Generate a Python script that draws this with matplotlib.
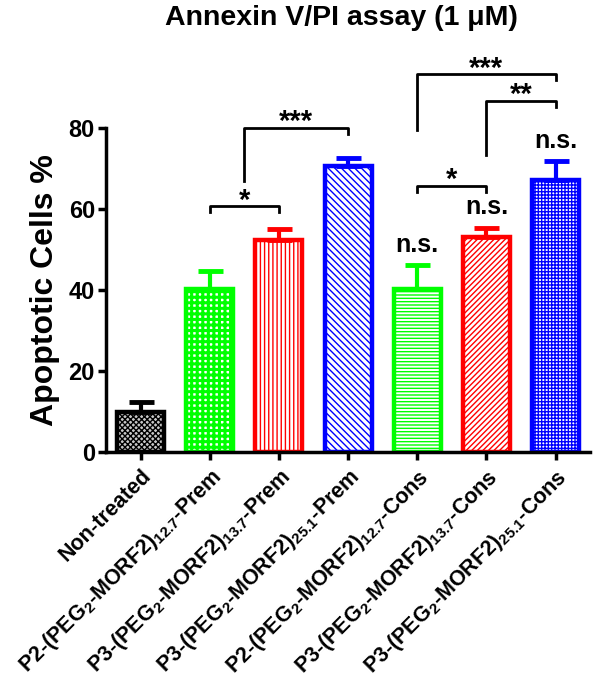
import matplotlib.pyplot as plt
import numpy as np

plt.rcParams['font.family'] = ['Liberation Sans', 'DejaVu Sans']
plt.rcParams['font.weight'] = 'bold'
plt.rcParams['mathtext.fontset'] = 'custom'
plt.rcParams['mathtext.bf'] = 'Liberation Sans:bold'
plt.rcParams['mathtext.rm'] = 'Liberation Sans:bold'
plt.rcParams['mathtext.default'] = 'bf'

# Data
labels = [
    'Non-treated',
    'P2-(PEG$_2$-MORF2)$_{12.7}$-Prem',
    'P3-(PEG$_2$-MORF2)$_{13.7}$-Prem',
    'P3-(PEG$_2$-MORF2)$_{25.1}$-Prem',
    'P2-(PEG$_2$-MORF2)$_{12.7}$-Cons',
    'P3-(PEG$_2$-MORF2)$_{13.7}$-Cons',
    'P3-(PEG$_2$-MORF2)$_{25.1}$-Cons',
]
means = [9.9, 40.2, 52.3, 70.6, 40.3, 53.0, 67.2]
errors = [2.4, 4.5, 2.7, 2.0, 5.9, 2.4, 4.7]
colors = ['black', '#00ff00', '#ff0000', '#0000ff', '#00ff00', '#ff0000', '#0000ff']
hatches = ['xxxxxx', '+++', '||||', '\\\\\\\\\\', '-----', '//////', '+++++']
hatch_lw = [1.0, 2.2, 1.0, 1.0, 1.0, 1.0, 1.0]
ns_bars = [4, 5, 6]

fig = plt.figure(figsize=(6.04, 6.81), dpi=100)
ax = fig.add_axes([0.1755, 0.3363, 0.8015, 0.4758])

x = np.arange(len(labels))
for xi, m, e, c, h, hl in zip(x, means, errors, colors, hatches, hatch_lw):
    fc = '#c8c8c8' if c == 'black' else 'white'
    with plt.rc_context({'hatch.linewidth': hl}):
        bars = ax.bar(xi, m, width=0.68, facecolor=fc, edgecolor=c, hatch=h, linewidth=3.2, zorder=2)
    for b in bars:
        if hasattr(b, 'set_hatch_linewidth'):
            b.set_hatch_linewidth(hl)
    ax.errorbar(xi, m, yerr=[[0], [e]], color=c, elinewidth=3, capsize=9, capthick=3.5, zorder=3)

# n.s. labels
for i in ns_bars:
    ax.text(x[i], means[i] + errors[i] + 2.0, 'n.s.', ha='center', va='bottom', fontsize=18, fontweight='bold',
            clip_on=False)


def bracket(x1, x2, y, h1, h2, text, tx=None):
    ax.plot([x1, x1, x2, x2], [y - h1, y, y, y - h2], color='black', lw=2, clip_on=False)
    if tx is None:
        tx = (x1 + x2) / 2
    # asterisks sit high in the em box, so anchor the baseline just under the line
    ax.text(tx, y - 0.6, text, ha='center', va='baseline', fontsize=21, fontweight='bold', clip_on=False)


bracket(1, 2, 60.7, 1.4, 1.4, '*')
bracket(1.5, 3, 80.0, 13.0, 1.5, '***')
bracket(4, 5, 65.7, 1.5, 1.5, '*')
bracket(5, 6, 86.7, 13.4, 1.5, '**')
bracket(4, 6, 93.3, 13.8, 1.5, '***')

ax.set_xlim(-0.5, 6.5)
ax.set_ylim(0, 80)
ax.set_yticks([0, 20, 40, 60, 80])
ax.set_xticks(x)
ax.set_xticklabels(labels, rotation=45, ha='right', rotation_mode='anchor', fontsize=15.5, fontweight='bold')
ax.tick_params(axis='y', labelsize=17, width=2.5, length=6, pad=2)
ax.tick_params(axis='x', width=2.5, length=6)
for lab in ax.get_yticklabels():
    lab.set_fontweight('bold')
ax.spines['top'].set_visible(False)
ax.spines['right'].set_visible(False)
ax.spines['left'].set_linewidth(2.5)
ax.spines['bottom'].set_linewidth(2.5)
ax.set_ylabel('Apoptotic Cells %', fontsize=23, fontweight='bold', labelpad=6)

fig.text(0.566, 0.973, 'Annexin V/PI assay (1 μM)', ha='center', va='center', fontsize=20.5, fontweight='bold')

plt.savefig('out.png', dpi=100)
